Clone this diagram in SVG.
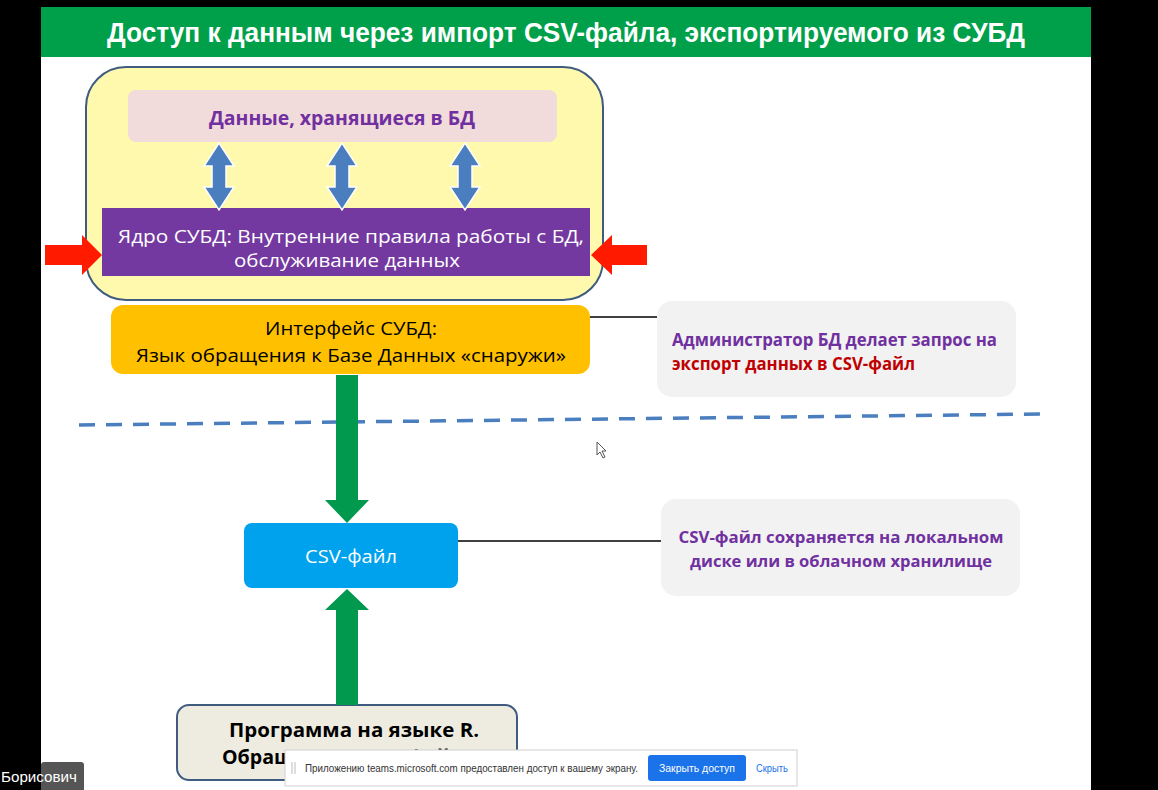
<svg xmlns="http://www.w3.org/2000/svg" width="1158" height="790" viewBox="0 0 1158 790">
<style>
.t{font-family:"Open Sans","Liberation Sans",sans-serif}
.b{font-weight:bold}
.c{text-anchor:middle}
.pur{fill:#7030A0}
.wh{fill:#ffffff}
.bk{fill:#000000}
.note{fill:#F2F2F2}
.link{stroke:#000;stroke-width:1.5}
.blue2{fill:#4A7EBE;stroke:#ffffff;stroke-width:1.5}
.green{fill:#00994D}
.red{fill:#FF1A00}
</style>
<rect x="0" y="0" width="1158" height="790" fill="#000"/>
<rect x="41" y="7" width="1050" height="783" fill="#FFFFFF"/>
<g id="title">
<rect x="41" y="7" width="1050" height="50" fill="#00A04B"/>
<text x="566" y="42" class="c b" font-family="Liberation Sans Narrow, Liberation Sans, sans-serif" font-size="27" fill="#fff" textLength="918" lengthAdjust="spacingAndGlyphs">Доступ к данным через импорт CSV-файла, экспортируемого из СУБД</text>
</g>
<g id="dbms">
<rect x="86" y="67" width="517" height="233" rx="40" fill="#FFF9AD" stroke="#3F5C80" stroke-width="2"/>
</g>
<g id="data">
<rect x="128" y="90" width="429" height="52" rx="8" fill="#F2DCDB"/>
<text x="342" y="125" class="t b c pur" font-size="19" textLength="266" lengthAdjust="spacingAndGlyphs">Данные, хранящиеся в БД</text>
</g>
<g id="core">
<rect x="102" y="208" width="488" height="68" fill="#7339A0"/>
<text x="351" y="243" class="t c wh" font-size="18" textLength="466" lengthAdjust="spacingAndGlyphs">Ядро СУБД: Внутренние правила работы с БД,</text>
<text x="347" y="267" class="t c wh" font-size="18" textLength="226" lengthAdjust="spacingAndGlyphs">обслуживание данных</text>
</g>
<g id="interface">
<rect x="111" y="305" width="479" height="69" rx="12" fill="#FFC000"/>
<text x="351" y="335" class="t c bk" font-size="19" textLength="172" lengthAdjust="spacingAndGlyphs">Интерфейс СУБД:</text>
<text x="351" y="362" class="t c bk" font-size="19" textLength="430" lengthAdjust="spacingAndGlyphs">Язык обращения к Базе Данных «снаружи»</text>
</g>
<g id="admin-note">
<rect x="657" y="301" width="359" height="96" rx="15" class="note"/>
<text x="672" y="346" class="t b pur" font-size="17" textLength="325" lengthAdjust="spacingAndGlyphs">Администратор БД делает запрос на</text>
<text x="672" y="370" class="t b" font-size="17" fill="#C00000" textLength="243" lengthAdjust="spacingAndGlyphs">экспорт данных в CSV-файл</text>
</g>
<g id="csv">
<rect x="244" y="523" width="214" height="65" rx="8" fill="#00A2EE"/>
<text x="351" y="563" class="t c wh" font-size="19" textLength="92" lengthAdjust="spacingAndGlyphs">CSV-файл</text>
</g>
<g id="csv-note">
<rect x="661" y="499" width="359" height="97" rx="15" class="note"/>
<text x="841" y="543" class="t b c pur" font-size="16" textLength="325" lengthAdjust="spacingAndGlyphs">CSV-файл сохраняется на локальном</text>
<text x="841" y="567" class="t b c pur" font-size="16" textLength="302" lengthAdjust="spacingAndGlyphs">диске или в облачном хранилище</text>
</g>
<g id="program">
<rect x="177" y="705" width="340" height="75" rx="12" fill="#EEECE1" stroke="#3F5C80" stroke-width="2"/>
<text x="354" y="737" class="t b c bk" font-size="19" textLength="250" lengthAdjust="spacingAndGlyphs">Программа на языке R.</text>
<text x="348" y="764" class="t b c bk" font-size="19" textLength="252" lengthAdjust="spacingAndGlyphs">Обращение к CSV-файлу</text>
</g>
<g id="connectors">
<line x1="590" y1="317" x2="657" y2="317" class="link"/>
<line x1="458" y1="541" x2="661" y2="541" class="link"/>
<line x1="79" y1="425" x2="1045" y2="414" stroke="#4A7EBE" stroke-width="3.5" stroke-dasharray="16 11"/>
<polygon class="blue2" points="219,143 234,166 226,166 226,187 234,187 219,210 204,187 212,187 212,166 204,166"/>
<polygon class="blue2" points="342,143 357,166 349,166 349,187 357,187 342,210 327,187 335,187 335,166 327,166"/>
<polygon class="blue2" points="465,143 480,166 472,166 472,187 480,187 465,210 450,187 458,187 458,166 450,166"/>
<polygon class="red" points="45,245 82,245 82,235 102,255 82,275 82,265 45,265"/>
<polygon class="red" points="647,245 612,245 612,235 591,255 612,275 612,265 647,265"/>
<polygon class="green" points="336,375 358,375 358,500 369,500 347,523 325,500 336,500"/>
<polygon class="green" points="347,589 369,610 358,610 358,705 336,705 336,610 325,610"/>
</g>
<g id="cursor">
<polygon points="597,442 597,455 600,452 603,458 605,457 602,451 606,451" fill="#fff" stroke="#555" stroke-width="1"/>
</g>
<g id="teams-bar">
<rect x="285" y="750" width="512" height="36" fill="#FFFFFF" stroke="#D0D0D0" stroke-width="1"/>
<line x1="292" y1="762" x2="292" y2="774" stroke="#bbb" stroke-width="1"/>
<line x1="295" y1="762" x2="295" y2="774" stroke="#bbb" stroke-width="1"/>
<text x="305" y="772" font-family="Liberation Sans, sans-serif" font-size="10" fill="#333" textLength="333" lengthAdjust="spacingAndGlyphs">Приложению teams.microsoft.com предоставлен доступ к вашему экрану.</text>
<rect x="648" y="755" width="98" height="26" rx="3" fill="#1A73E8"/>
<text x="697" y="772" text-anchor="middle" font-family="Liberation Sans, sans-serif" font-size="10" fill="#fff" textLength="76" lengthAdjust="spacingAndGlyphs">Закрыть доступ</text>
<text x="756" y="772" font-family="Liberation Sans, sans-serif" font-size="10" fill="#1A73E8" textLength="32" lengthAdjust="spacingAndGlyphs">Скрыть</text>
</g>
<g id="name-label">
<rect x="41" y="762" width="43" height="30" rx="3" fill="#555555"/>
<text x="1" y="782" font-family="Liberation Sans Narrow, Liberation Sans, sans-serif" font-size="14" fill="#fff" textLength="76" lengthAdjust="spacingAndGlyphs">Борисович</text>
</g>
</svg>
